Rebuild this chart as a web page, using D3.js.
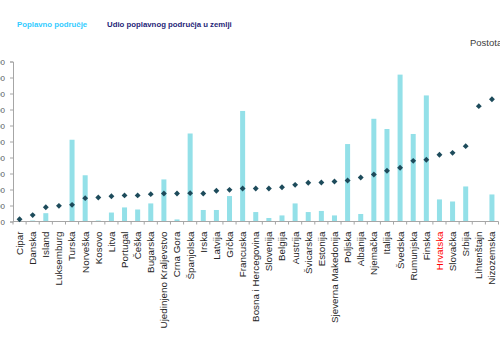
<!DOCTYPE html>
<html>
<head>
<meta charset="utf-8">
<script src="https://cdn.jsdelivr.net/npm/d3@7"></script>
<style>
  body { margin: 0; background: #fff; }
  svg { display: block; font-family: 'Liberation Sans', Arial, sans-serif; }
</style>
</head>
<body>
<div id="chart"></div>
<script>
// countries, sorted by share of flood area
const countries = ['Cipar', 'Danska', 'Island', 'Luksemburg', 'Turska', 'Norveška', 'Kosovo', 'Litva',
  'Portugal', 'Češka', 'Bugarska', 'Ujedinjeno Kraljevstvo', 'Crna Gora', 'Španjolska', 'Irska',
  'Latvija', 'Grčka', 'Francuska', 'Bosna i Hercegovina', 'Slovenija', 'Belgija', 'Austrija',
  'Švicarska', 'Estonija', 'Sjeverna Makedonija', 'Poljska', 'Albanija', 'Njemačka', 'Italija',
  'Švedska', 'Rumunjska', 'Finska', 'Hrvatska', 'Slovačka', 'Srbija', 'Lihtenštajn', 'Nizozemska']

// Poplavno područje (left axis)
const floodArea = [20, 60, 520, 0, 5110, 2890, 60, 560, 880, 750, 1130, 2630, 130, 5500, 720,
  720, 1590, 6910, 590, 220, 380, 1130, 590, 660, 380, 4840, 470, 6420, 5780,
  9180, 5470, 7880, 1380, 1250, 2190, 0, 1690]

// Udio poplavnog područja u zemlji (right axis, %)
const floodShare = [1.4, 4.0, 8.9, 9.8, 10.4, 14.6, 15.0, 15.8, 16.3, 16.3, 17.1, 17.5, 17.5, 17.7, 17.5,
  19.2, 19.8, 20.6, 20.6, 20.6, 21.4, 22.9, 24.2, 24.4, 25.0, 25.6, 27.5, 29.4, 31.7,
  33.6, 37.9, 38.6, 41.7, 42.9, 47.1, 72.1, 76.4]

const leftTicks = [0, 1000, 2000, 3000, 4000, 5000, 6000, 7000, 8000, 9000, 10000]

const width = 500
const height = 351
const margin = { top: 61.5, left: 13, right: 1.5, bottom: 129.5 }

const svg = d3.select('#chart')
  .append('svg')
  .attr('width', width)
  .attr('height', height)

const x = d3.scaleBand()
  .domain(countries)
  .range([margin.left, width - margin.right])

const y = d3.scaleLinear()
  .domain([0, 10000])
  .range([height - margin.bottom, margin.top])

const y2 = d3.scaleLinear()
  .domain([0, 100])
  .range([height - margin.bottom, margin.top])

// legend
svg.append('text').attr('x', 17).attr('y', 27)
  .attr('font-size', 7.8).attr('font-weight', 'bold').attr('fill', '#33ccff')
  .text('Poplavno područje')
svg.append('text').attr('x', 107).attr('y', 27)
  .attr('font-size', 7.8).attr('font-weight', 'bold').attr('fill', '#1f1f78')
  .text('Udio poplavnog područja u zemlji')

svg.append('text').attr('x', 470).attr('y', 46)
  .attr('font-size', 9.5).attr('fill', '#404040')
  .text('Postotak')

// bars
svg.selectAll('.bar')
  .data(countries)
  .enter()
  .append('rect')
  .attr('class', 'bar')
  .attr('x', (d, i) => x(d) + x.bandwidth() / 2 - 2.5)
  .attr('width', 5)
  .attr('y', (d, i) => y(floodArea[i]))
  .attr('height', (d, i) => y(0) - y(floodArea[i]))
  .attr('fill', '#93e0e8')

// left axis
const yAxis = svg.append('g')
  .attr('transform', 'translate(' + margin.left + ',0)')
  .call(d3.axisLeft(y).tickValues(leftTicks).tickSize(3).tickPadding(5).tickFormat(d3.format('d')))
yAxis.selectAll('line, path').attr('stroke', '#a6a6a6')
yAxis.selectAll('text').attr('font-size', 8).attr('fill', '#595959')

// bottom axis
const boundaries = countries.map(d => x(d)).concat([x.range()[1]])
const xAxis = svg.append('g').attr('class', 'x-axis')
xAxis.append('line')
  .attr('x1', x.range()[0]).attr('x2', x.range()[1])
  .attr('y1', y(0)).attr('y2', y(0))
  .attr('stroke', '#a6a6a6')
xAxis.selectAll('.tick')
  .data(boundaries)
  .enter()
  .append('line')
  .attr('x1', d => d).attr('x2', d => d)
  .attr('y1', y(0)).attr('y2', y(0) + 3)
  .attr('stroke', '#a6a6a6')

svg.selectAll('.xlabel')
  .data(countries)
  .enter()
  .append('text')
  .attr('class', 'xlabel')
  .attr('transform', d => 'translate(' + (x(d) + x.bandwidth() / 2) + ',' + (y(0) + 10) + ') rotate(-90)')
  .attr('text-anchor', 'end')
  .attr('dy', '0.35em')
  .attr('font-size', 9.8)
  .attr('fill', d => d === 'Hrvatska' ? '#ff0000' : '#262626')
  .text(d => d)

// share markers
svg.selectAll('.dot')
  .data(countries)
  .enter()
  .append('path')
  .attr('class', 'dot')
  .attr('d', d3.symbol().type(d3.symbolDiamond2).size(22))
  .attr('transform', (d, i) => 'translate(' + (x(d) + x.bandwidth() / 2) + ',' + y2(floodShare[i]) + ')')
  .attr('fill', '#1d4b5b')
</script>
</body>
</html>
